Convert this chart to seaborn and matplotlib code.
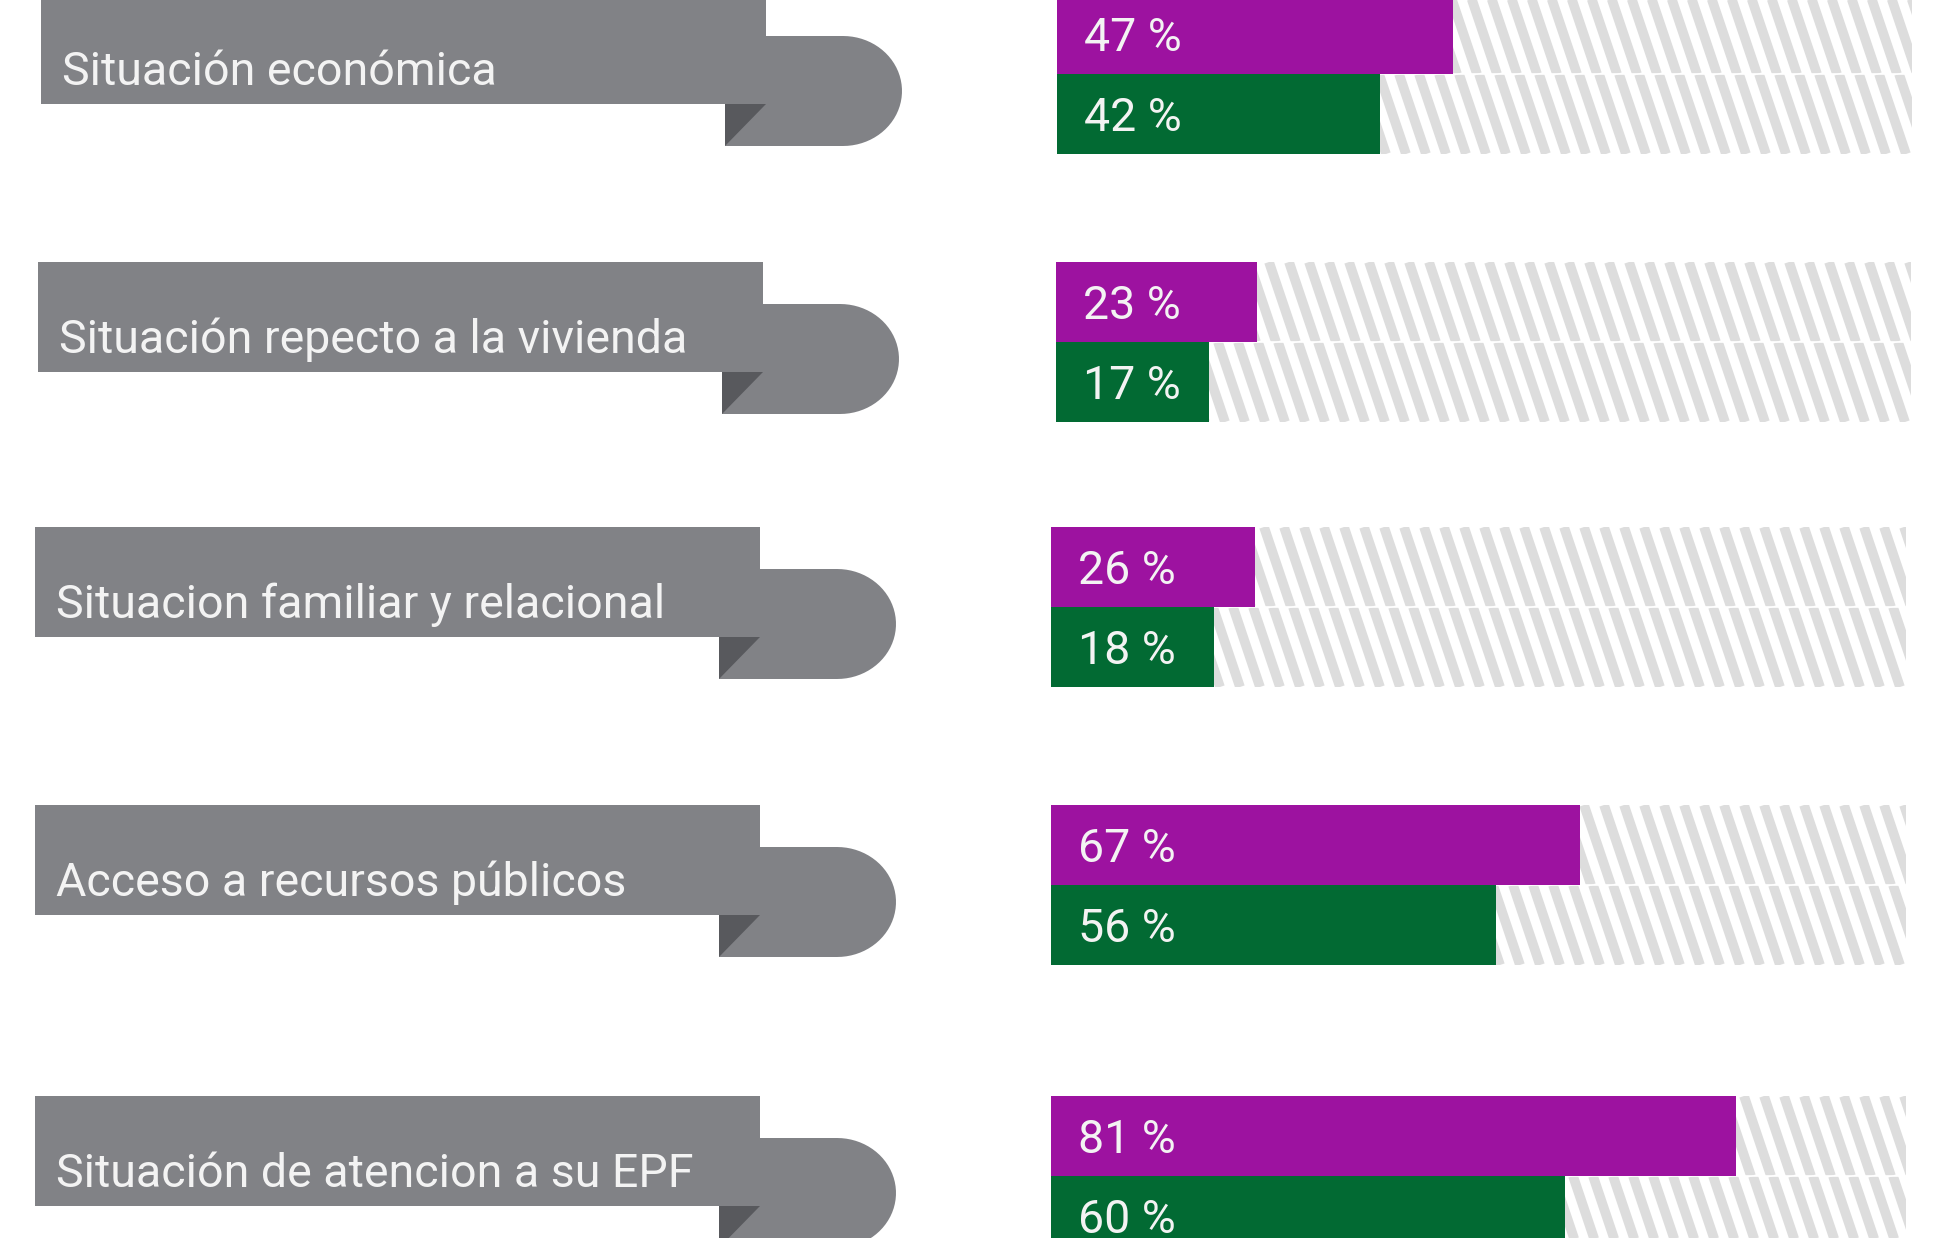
import numpy as np
import matplotlib
matplotlib.use("Agg")
import matplotlib.pyplot as plt
from matplotlib.patches import Polygon, Rectangle
from matplotlib.collections import LineCollection
import seaborn as sns

# datos
categorias = ["Situación económica",
              "Situación repecto a la vivienda",
              "Situacion familiar y relacional",
              "Acceso a recursos públicos",
              "Situación de atencion a su EPF"]
etiqueta_morado = [47, 23, 26, 67, 81]
etiqueta_verde = [42, 17, 18, 56, 60]
# largo de barra tal como aparece dibujado (%)
barra_morado = [46.3, 23.5, 23.9, 61.9, 80.1]
barra_verde = [37.8, 17.9, 19.1, 52.0, 60.1]

# colores
MORADO = "#9d12a0"
VERDE = "#026a33"
GRIS = "#818286"
GRIS_OSCURO = "#58595d"
RAYA = "#dddddd"
TEXTO = "#f3f3f3"
FUENTE = ["Roboto", "DejaVu Sans"]

sns.set_style("white")

W, H = 1944, 1238
fig = plt.figure(figsize=(W / 100, H / 100), dpi=100)

# layout (pixeles)
fila_top = [-6, 262, 527, 805, 1096]
barra_left = [1057, 1056, 1051, 1051, 1051]
barra_ancho = 855
banda_left = [41, 38, 35, 35, 35]

# capa de fondo para las etiquetas
deco = fig.add_axes([0, 0, 1, 1])
deco.set_xlim(0, W)
deco.set_ylim(H, 0)
deco.axis("off")

for i, cat in enumerate(categorias):
    top = fila_top[i]
    x0 = banda_left[i]
    x1 = x0 + 725
    xl = x1 - 41
    tt, tb = top + 42, top + 152
    xc = x1 + 77
    # cola redondeada
    t = np.linspace(np.pi / 2, -np.pi / 2, 40)
    arco = np.column_stack([xc + 59 * np.cos(t), (tt + tb) / 2 - 55 * np.sin(t)])
    cola = np.vstack([[xl, tt], arco, [xl, tb]])
    deco.add_patch(Polygon(cola, closed=True, facecolor=GRIS, edgecolor="none"))
    deco.add_patch(Rectangle((x0, top), 725, 110, facecolor=GRIS, edgecolor="none"))
    deco.add_patch(Polygon([[xl, top + 110], [x1, top + 110], [xl, tb]], closed=True,
                           facecolor=GRIS_OSCURO, edgecolor="none"))
    deco.text(x0 + 21, top + 91, cat, color=TEXTO, fontsize=33.5, family=FUENTE,
              va="baseline", ha="left")

# barras
for i in range(len(categorias)):
    top = fila_top[i]
    ax = fig.add_axes([barra_left[i] / W, 1 - (top + 160) / H, barra_ancho / W, 160 / H])
    df_y = ["a", "b"]
    sns.barplot(x=[100, 100], y=df_y, orient="h", color="white", width=1,
                saturation=1, ax=ax, edgecolor="none")
    fondo = list(ax.patches)
    # rayas diagonales
    periodo = 20 / barra_ancho * 100
    dx = 27 / barra_ancho * 100
    for j, p in enumerate(fondo):
        desf = 0 if j == 0 else periodo * 0.45
        xs = np.arange(-dx - periodo + desf, 100 + periodo, periodo)
        segs = [[(x, j - 0.5), (x + dx, j + 0.5)] for x in xs]
        lc = LineCollection(segs, colors=RAYA, linewidths=7, capstyle="butt", zorder=1)
        ax.add_collection(lc)
        lc.set_clip_path(p)
    ax.axhline(0.5, color="white", lw=1.2, zorder=2)
    largos = [barra_morado[i], barra_verde[i]]
    sns.barplot(x=largos, y=df_y, hue=df_y, palette=[MORADO, VERDE], orient="h",
                width=1, saturation=1, ax=ax, legend=False, edgecolor="none")
    for b in ax.patches[len(fondo):]:
        b.set_zorder(3)
    for j, v in enumerate([etiqueta_morado[i], etiqueta_verde[i]]):
        ax.annotate(f"{v} %", xy=(0, j), xytext=(27, -17), textcoords="offset pixels",
                    color=TEXTO, fontsize=33.5, family=FUENTE,
                    va="baseline", ha="left", zorder=4, annotation_clip=False)
    ax.set_xlim(0, 100)
    ax.set_ylim(1.5, -0.5)
    ax.axis("off")

fig.savefig("out.png", dpi=100)
